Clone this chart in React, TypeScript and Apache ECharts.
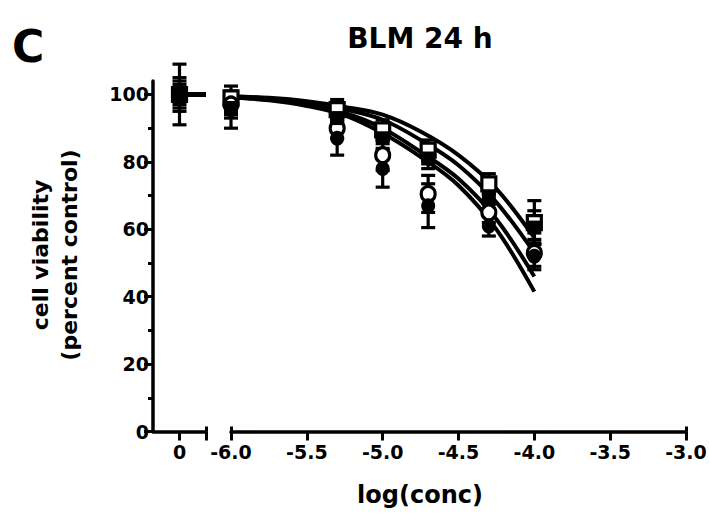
import React, { useEffect, useRef } from "react";
import * as echarts from "echarts";

// ---- data ----
const LOG_CONC = [-6, -5.3, -5, -4.7, -4.3, -4];
const CONTROL_X = [0];

const OPEN_SQ = [99, 95.5, 89.5, 83.5, 73.5, 62];
const OPEN_SQ_ERR = [3.5, 3, 3, 3, 3, 6.5];
const FILL_SQ = [96, 93, 87, 81, 69, 60.5];
const FILL_SQ_ERR = [3, 3, 3, 3, 3, 5];
const OPEN_CI = [97, 90, 82, 70.5, 65, 53];
const OPEN_CI_ERR = [3, 3, 4.5, 5.5, 3, 4];
const FILL_CI = [95.5, 87, 78, 67, 61, 52];
const FILL_CI_ERR = [5.5, 5, 5.5, 6.5, 3, 4];

const CONTROL = [100, 100, 100, 100];
const CONTROL_ERR = [5, 9, 4, 3];
const CONTROL_LINE_X = [0, 0.5];

const FIT_X = [-6, -5.75, -5.5, -5.25, -5, -4.75, -4.5, -4.25, -4];
const FIT_OPEN_SQ = [99.5, 99, 98, 96.3, 94, 89, 82, 72, 57.5];
const FIT_FILL_SQ = [99.4, 98.8, 97.6, 95.6, 92.5, 86.5, 79, 68, 53];
const FIT_OPEN_CI = [99.2, 98.5, 97, 94.5, 90, 83, 75, 63, 46];
const FIT_FILL_CI = [99.1, 98.3, 96.6, 93.8, 88.5, 81.5, 73, 60, 41.5];

const Y_TICKS = [0, 20, 40, 60, 80, 100];
const Y_MINOR = [10, 30, 50, 70, 90];
const X_LEFT_TICKS = [0];
const X_RIGHT_TICKS = [-6, -5.5, -5, -4.5, -4, -3.5, -3];

const FONT = "DejaVu Sans";

type Group = {
  name: string;
  vals: number[];
  errs: number[];
  fit: number[];
  symbol: string;
  open: boolean;
};

const GROUPS: Group[] = [
  { name: "open square", vals: OPEN_SQ, errs: OPEN_SQ_ERR, fit: FIT_OPEN_SQ, symbol: "rect", open: true },
  { name: "open circle", vals: OPEN_CI, errs: OPEN_CI_ERR, fit: FIT_OPEN_CI, symbol: "circle", open: true },
  { name: "filled circle", vals: FILL_CI, errs: FILL_CI_ERR, fit: FIT_FILL_CI, symbol: "circle", open: false },
  { name: "filled square", vals: FILL_SQ, errs: FILL_SQ_ERR, fit: FIT_FILL_SQ, symbol: "rect", open: false },
];

const errorRender = (params: any, api: any) => {
  const x = api.value(0);
  const y = api.value(1);
  const e = api.value(2);
  const top = api.coord([x, y + e]);
  const bot = api.coord([x, y - e]);
  const hw = 7;
  const style = { stroke: "#000", lineWidth: 3.2 };
  return {
    type: "group",
    children: [
      { type: "line", shape: { x1: top[0], y1: top[1], x2: bot[0], y2: bot[1] }, style },
      { type: "line", shape: { x1: top[0] - hw, y1: top[1], x2: top[0] + hw, y2: top[1] }, style },
      { type: "line", shape: { x1: bot[0] - hw, y1: bot[1], x2: bot[0] + hw, y2: bot[1] }, style },
    ],
  };
};

const labelStyle = {
  fontFamily: FONT,
  fontWeight: "bold" as const,
  fontSize: 19,
  color: "#000",
};

const markerStyle = (open: boolean) =>
  open
    ? { color: "#fff", borderColor: "#000", borderWidth: 3.2, opacity: 1 }
    : { color: "#000", borderColor: "#000", borderWidth: 0, opacity: 1 };

export default function App() {
  const ref = useRef<HTMLDivElement>(null);

  useEffect(() => {
    if (!ref.current) return;
    const chart = echarts.init(ref.current, undefined, { renderer: "svg" });

    const series: any[] = [];

    // fitted curves (right segment)
    GROUPS.forEach((g) => {
      series.push({
        type: "line",
        name: g.name + " fit",
        xAxisIndex: 2,
        yAxisIndex: 2,
        data: FIT_X.map((x, i) => [x, g.fit[i]]),
        smooth: 0.35,
        showSymbol: false,
        symbol: "none",
        lineStyle: { color: "#000", width: 4 },
        z: 2,
      });
    });
    // control plateau line (left segment)
    series.push({
      type: "line",
      xAxisIndex: 0,
      yAxisIndex: 0,
      data: CONTROL_LINE_X.map((x) => [x, CONTROL[0]]),
      showSymbol: false,
      symbol: "none",
      lineStyle: { color: "#000", width: 5 },
      z: 2,
    });

    // error bars + markers (right segment)
    GROUPS.forEach((g) => {
      series.push({
        type: "custom",
        xAxisIndex: 2,
        yAxisIndex: 2,
        data: LOG_CONC.map((x, i) => [x, g.vals[i], g.errs[i]]),
        encode: { x: 0, y: 1 },
        renderItem: errorRender,
        z: 3,
      });
    });
    GROUPS.forEach((g, k) => {
      series.push({
        type: "scatter",
        name: g.name,
        xAxisIndex: 2,
        yAxisIndex: 2,
        data: LOG_CONC.map((x, i) => [x, g.vals[i]]),
        symbol: g.symbol,
        symbolSize: g.symbol === "rect" ? 14 : [14, 15],
        itemStyle: markerStyle(g.open),
        z: 4 + k,
      });
    });

    // control (left segment)
    GROUPS.forEach((g, gi) => {
      series.push({
        type: "custom",
        xAxisIndex: 0,
        yAxisIndex: 0,
        data: CONTROL_X.map((x) => [x, CONTROL[gi], CONTROL_ERR[gi]]),
        encode: { x: 0, y: 1 },
        renderItem: errorRender,
        z: 3,
      });
      series.push({
        type: "scatter",
        xAxisIndex: 0,
        yAxisIndex: 0,
        data: CONTROL_X.map((x) => [x, CONTROL[gi]]),
        symbol: g.symbol,
        symbolSize: g.symbol === "rect" ? 14 : [14, 15],
        itemStyle: markerStyle(g.open),
        z: 8 + gi,
      });
    });

    const axisLine = { show: true, onZero: false, lineStyle: { color: "#000", width: 3.5 } };

    chart.setOption({
      animation: false,
      backgroundColor: "#fff",
      grid: [
        { left: 153, top: 81, width: 53, height: 350.5, containLabel: false },
        { left: 231, top: 81, width: 455, height: 350.5, containLabel: false },
      ],
      xAxis: [
        {
          gridIndex: 0,
          type: "value",
          position: "bottom",
          min: -0.5,
          max: 0.5,
          axisLine,
          axisTick: { show: true, customValues: [0, 0.5], length: 9, lineStyle: { color: "#000", width: 3 } },
          axisLabel: { ...labelStyle, customValues: X_LEFT_TICKS, margin: 11, formatter: (v: number) => String(v) },
          splitLine: { show: false },
        },
        {
          gridIndex: 0,
          type: "value",
          position: "bottom",
          min: -0.5,
          max: 0.5,
          axisLine: { show: false, onZero: false },
          axisTick: { show: true, inside: true, customValues: [0.5], length: 5, lineStyle: { color: "#000", width: 3 } },
          axisLabel: { show: false },
          splitLine: { show: false },
        },
        {
          gridIndex: 1,
          type: "value",
          position: "bottom",
          min: -6,
          max: -3,
          interval: 0.5,
          axisLine,
          axisTick: { show: true, customValues: X_RIGHT_TICKS, length: 9, lineStyle: { color: "#000", width: 3 } },
          axisLabel: {
            ...labelStyle,
            customValues: X_RIGHT_TICKS,
            margin: 11,
            formatter: (v: number) => v.toFixed(1),
          },
          splitLine: { show: false },
        },
        {
          gridIndex: 1,
          type: "value",
          position: "bottom",
          min: -6,
          max: -3,
          axisLine: { show: false, onZero: false },
          axisTick: { show: true, inside: true, customValues: [-6, -3], length: 5, lineStyle: { color: "#000", width: 3 } },
          axisLabel: { show: false },
          splitLine: { show: false },
        },
      ],
      yAxis: [
        {
          gridIndex: 0,
          type: "value",
          position: "left",
          min: 0,
          max: 104,
          axisLine,
          axisTick: { show: true, customValues: Y_TICKS, length: 9, lineStyle: { color: "#000", width: 3 } },
          axisLabel: { ...labelStyle, customValues: Y_TICKS, margin: 4 },
          splitLine: { show: false },
        },
        {
          gridIndex: 0,
          type: "value",
          position: "left",
          min: 0,
          max: 104,
          axisLine: { show: false, onZero: false },
          axisTick: { show: true, customValues: Y_MINOR, length: 5, lineStyle: { color: "#000", width: 3 } },
          axisLabel: { show: false },
          splitLine: { show: false },
        },
        {
          gridIndex: 1,
          type: "value",
          min: 0,
          max: 104,
          show: false,
          axisLine: { show: false, onZero: false },
          splitLine: { show: false },
        },
      ],
      graphic: [
        {
          type: "text",
          x: 12,
          y: 46,
          style: { text: "C", fontFamily: FONT, fontWeight: "bold", fontSize: 44, fill: "#000", textVerticalAlign: "middle" },
        },
        {
          type: "text",
          x: 420,
          y: 38,
          style: {
            text: "BLM 24 h",
            fontFamily: FONT,
            fontWeight: "bold",
            fontSize: 28,
            fill: "#000",
            textAlign: "center",
            textVerticalAlign: "middle",
          },
        },
        {
          type: "text",
          x: 40,
          y: 255,
          rotation: Math.PI / 2,
          style: {
            text: "cell viability",
            fontFamily: FONT,
            fontWeight: "bold",
            fontSize: 22,
            fill: "#000",
            textAlign: "center",
            textVerticalAlign: "middle",
          },
        },
        {
          type: "text",
          x: 69,
          y: 255,
          rotation: Math.PI / 2,
          style: {
            text: "(percent control)",
            fontFamily: FONT,
            fontWeight: "bold",
            fontSize: 22,
            fill: "#000",
            textAlign: "center",
            textVerticalAlign: "middle",
          },
        },
        {
          type: "text",
          x: 420,
          y: 495,
          style: {
            text: "log(conc)",
            fontFamily: FONT,
            fontWeight: "bold",
            fontSize: 24,
            fill: "#000",
            textAlign: "center",
            textVerticalAlign: "middle",
          },
        },
      ],
      series,
    });

    return () => {
      chart.dispose();
    };
  }, []);

  return (
    <div
      ref={ref}
      style={{ position: "fixed", left: 0, top: 0, width: 710, height: 518, background: "#fff" }}
    />
  );
}
